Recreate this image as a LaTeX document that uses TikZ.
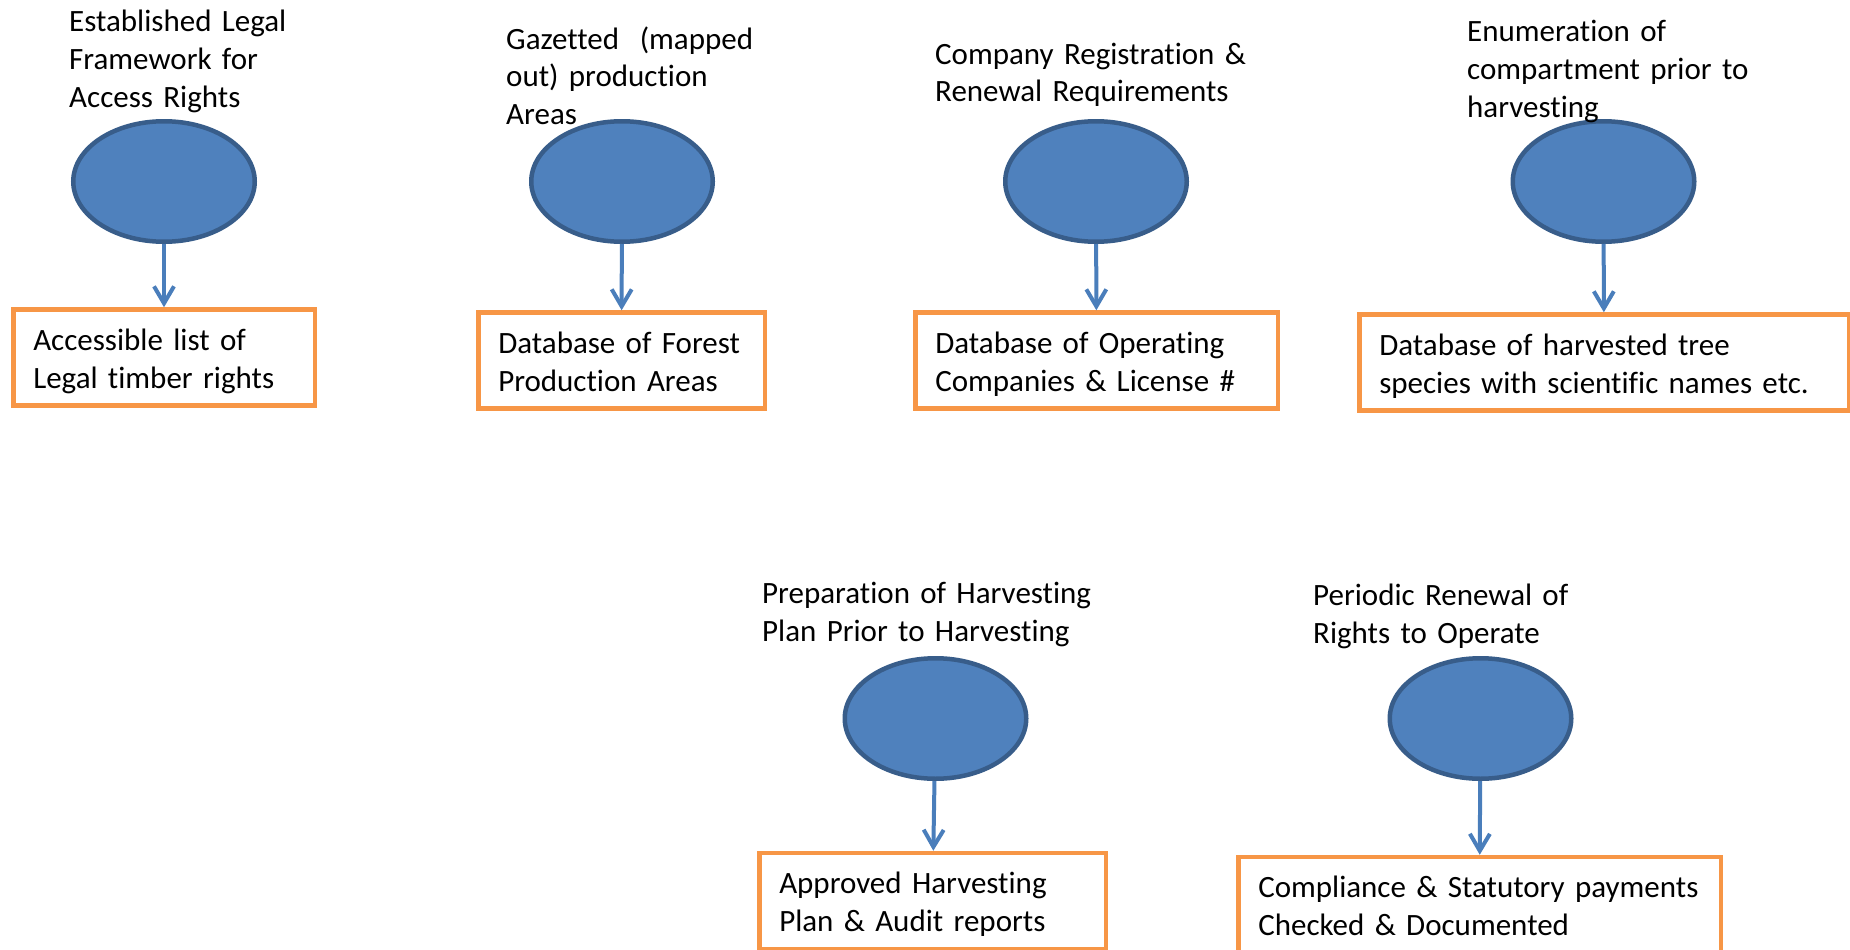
\documentclass[tikz,border=0pt]{standalone}
\usepackage{fontspec}
\setmainfont[Ligatures=NoCommon]{Carlito}
\usetikzlibrary{shapes.geometric}
\usetikzlibrary{arrows.meta}

% keep t and i apart
\XeTeXinterchartokenstate=1
\newXeTeXintercharclass\tletter
\newXeTeXintercharclass\iletter
\XeTeXcharclass`t=\tletter
\XeTeXcharclass`i=\iletter
\XeTeXinterchartoks\tletter\iletter={\kern0pt }

\definecolor{ovalfill}{HTML}{4F81BD}
\definecolor{ovalline}{HTML}{385D8A}
\definecolor{flowblue}{HTML}{4A7EBB}
\definecolor{boxline}{HTML}{F79646}

\begin{document}
\begin{tikzpicture}[x=1pt,y=-1pt,
        font=\fontsize{31}{38}\selectfont,
        stage/.style={ellipse,draw=ovalline,fill=ovalfill,line width=4.5pt,
            inner sep=0pt,minimum width=181.5pt,minimum height=120.5pt},
        record/.style={rectangle,draw=boxline,fill=white,line width=4.5pt,
            inner xsep=20pt,inner ysep=0pt,align=left,minimum height=96pt,
            text height=30pt,text depth=45pt},
        caption/.style={anchor=base west,inner sep=0pt,align=left,text width=360pt},
        flow/.style={-{Straight Barb[length=17pt,width=20pt]},draw=flowblue,line width=4pt}]
            \useasboundingbox (0,0) rectangle (1850,950);
            % first row
            \node[stage] (e1) at (164,181.5) {};
            \node[stage] (e2) at (622,181.5) {};
            \node[stage] (e3) at (1096,181.5) {};
            \node[stage] (e4) at (1603.5,181.5) {};
            % second row
            \node[stage] (e5) at (935.5,718.5) {};
            \node[stage] (e6) at (1480.5,718.5) {};
            % captions over the ovals
            \node[caption] (t1) at (69,32) {Established Legal\\Framework for\\Access Rights};
            \node[caption] (t2) at (506,49) {Gazetted\ \ (mapped\\out) production\\Areas};
            \node[caption] (t3) at (935,64) {Company Registration \&\\Renewal Requirements};
            \node[caption] (t4) at (1467,42) {Enumeration of\\compartment prior to\\harvesting};
            \node[caption] (t5) at (762,603) {Preparation of Harvesting\\Plan Prior to Harvesting};
            \node[caption] (t6) at (1313,605) {Periodic Renewal of\\Rights to Operate};
            % outputs
            \node[record,text width=261.5pt] (b1) at (164,357.5) {Accessible list of\\Legal timber rights};
            \node[record,text width=246.5pt] (b2) at (621.5,360.5) {Database of Forest\\Production Areas};
            \node[record,text width=322.5pt] (b3) at (1096.5,360.5) {Database of Operating\\Companies \& License \#};
            \node[record,text width=449.5pt] (b4) at (1604,362.5) {Database of harvested tree\\species with scientific names etc.};
            \node[record,text width=306.5pt] (b5) at (932.5,901) {Approved Harvesting\\Plan \& Audit reports};
            \node[record,text width=442.5pt] (b6) at (1479.5,905) {Compliance \& Statutory payments\\Checked \& Documented};
            % arrows
            \draw[flow] (e1) -- (b1);
            \draw[flow] (e2) -- (b2);
            \draw[flow] (e3) -- (b3);
            \draw[flow] (e4) -- (b4);
            \draw[flow] (e5) -- (b5);
            \draw[flow] (e6) -- (b6);
\end{tikzpicture}
\end{document}
